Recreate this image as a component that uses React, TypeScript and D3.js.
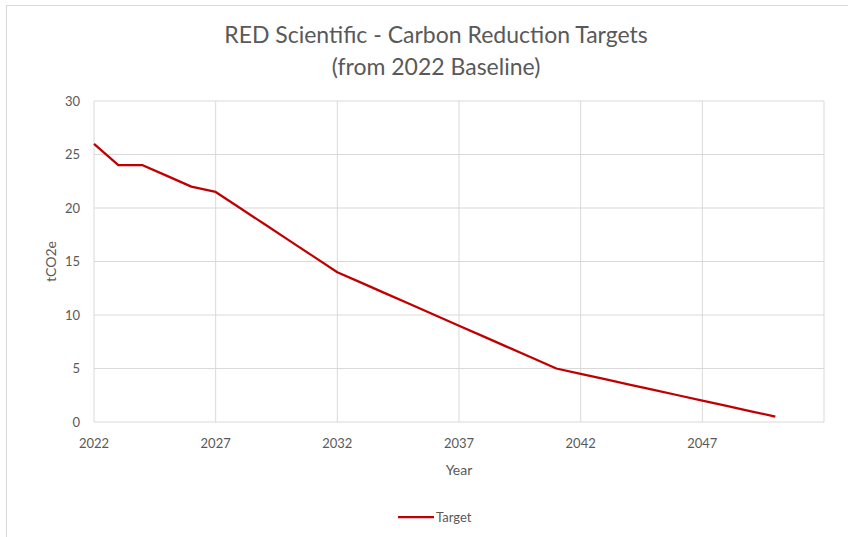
import { scaleLinear, line as d3_line, range } from "d3";

const years = range(2022, 2051);
const target = [
  26, 24, 24, 23, 22, 21.5, 20, 18.5, 17, 15.5, 14, 13, 12, 11, 10, 9, 8, 7, 6,
  5, 4.5, 4, 3.5, 3, 2.5, 2, 1.5, 1, 0.5,
];
const xTicks = [2022, 2027, 2032, 2037, 2042, 2047];
const yTicks = [0, 5, 10, 15, 20, 25, 30];

const W = 848;
const H = 537;
const font = "Lato, 'Open Sans', sans-serif";
const textColor = "#595959";
const gridColor = "#d9d9d9";

export default function App() {
  const margin = { left: 94, right: 24, top: 101, bottom: 115 };
  const x = scaleLinear().domain([2022, 2052]).range([margin.left, W - margin.right]);
  const y = scaleLinear().domain([0, 30]).range([H - margin.bottom, margin.top]);

  const path = d3_line<number>()
    .x((_, i) => x(years[i]))
    .y((d) => y(d))(target);

  return (
    <svg
      width={W}
      height={H}
      style={{ position: "absolute", left: 0, top: 0, background: "#fff" }}
      fontFamily={font}
    >
      {/* chart frame */}
      <rect x={6.5} y={5.5} width={W} height={H} fill="none" stroke={gridColor} />

      {/* title */}
      <text x={436} y={43} textAnchor="middle" fontSize={23} fill={textColor}>
        RED Scientific - Carbon Reduction Targets
      </text>
      <text x={436} y={75} textAnchor="middle" fontSize={23} fill={textColor}>
        (from 2022 Baseline)
      </text>

      {/* grid */}
      {yTicks.map((t) => (
        <g key={`y${t}`}>
          <line x1={x(2022)} x2={x(2052)} y1={y(t)} y2={y(t)} stroke={gridColor} />
          <text
            x={80}
            y={y(t)}
            dy="0.35em"
            textAnchor="end"
            fontSize={13}
            fill={textColor}
          >
            {t}
          </text>
        </g>
      ))}
      {[...xTicks, 2052].map((t) => (
        <line key={`x${t}`} x1={x(t)} x2={x(t)} y1={y(30)} y2={y(0)} stroke={gridColor} />
      ))}
      {xTicks.map((t) => (
        <text key={`xl${t}`} x={x(t)} y={448} textAnchor="middle" fontSize={13} fill={textColor}>
          {t}
        </text>
      ))}

      {/* axis titles */}
      <text x={459} y={475} textAnchor="middle" fontSize={14} fill={textColor}>
        Year
      </text>
      <text
        transform={`translate(56,${(y(0) + y(30)) / 2}) rotate(-90)`}
        textAnchor="middle"
        fontSize={14}
        fill={textColor}
      >
        tCO2e
      </text>

      {/* series */}
      <path d={path ?? ""} fill="none" stroke="#c00000" strokeWidth={2.25} strokeLinejoin="round" />

      {/* legend */}
      <line x1={398} x2={434} y1={517} y2={517} stroke="#c00000" strokeWidth={2.25} />
      <text x={436} y={517} dy="0.35em" fontSize={13} fill={textColor}>
        Target
      </text>
    </svg>
  );
}
